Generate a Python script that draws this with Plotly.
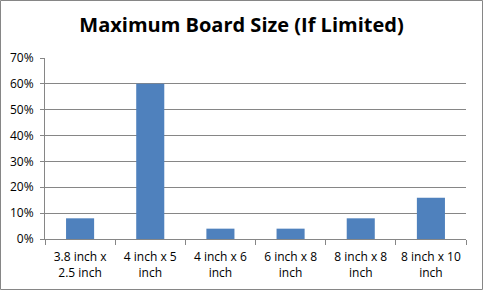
import plotly.graph_objects as go

categories = ["3.8 inch x<br>2.5 inch", "4 inch x 5<br>inch", "4 inch x 6<br>inch",
              "6 inch x 8<br>inch", "8 inch x 8<br>inch", "8 inch x 10<br>inch"]
values = [0.08, 0.60, 0.04, 0.04, 0.08, 0.16]
ytick_vals = [0, 0.1, 0.2, 0.3, 0.4, 0.5, 0.6, 0.7]
ytick_text = ["0%", "10%", "20%", "30%", "40%", "50%", "60%", "70%"]

W, H = 483, 291
L, R, T, B = 45, 17, 58, 52
pw, ph = W - L - R, H - T - B

fig = go.Figure(go.Bar(x=categories, y=values, marker=dict(color="#4F81BD", line_width=0)))

fig.update_layout(
    width=W, height=H,
    margin=dict(l=L, r=R, t=T, b=B, autoexpand=False),
    paper_bgcolor="white", plot_bgcolor="white",
    bargap=0.6,
    showlegend=False,
    font=dict(family="Open Sans", size=12, color="black"),
    title=dict(text="<b>Maximum Board Size (If Limited)</b>", x=0.5, xanchor="center",
               y=1 - 25 / H, yanchor="middle",
               font=dict(family="Open Sans", size=20, color="black")),
    xaxis=dict(showline=True, linecolor="#868686", linewidth=1, ticks="outside",
               tickson="boundaries", ticklen=5, tickcolor="#868686",
               tickfont=dict(size=12), showgrid=False, ticklabelstandoff=7),
    yaxis=dict(range=[0, 0.7], tickvals=ytick_vals, ticktext=ytick_text,
               showline=True, linecolor="#868686", linewidth=1, ticks="outside",
               ticklen=4, tickcolor="#868686", showgrid=True, gridcolor="#868686",
               gridwidth=1, zeroline=False, tickfont=dict(size=12), ticklabelstandoff=4),
    shapes=[dict(type="rect", xref="paper", yref="paper",
                 x0=(0.5 - L) / pw, x1=(W - 0.5 - L) / pw,
                 y0=-(B - 1.5) / ph, y1=(ph + T - 0.5) / ph,
                 line=dict(color="#868686", width=1), fillcolor="rgba(0,0,0,0)", layer="below")],
)

fig.write_html("out.html")
